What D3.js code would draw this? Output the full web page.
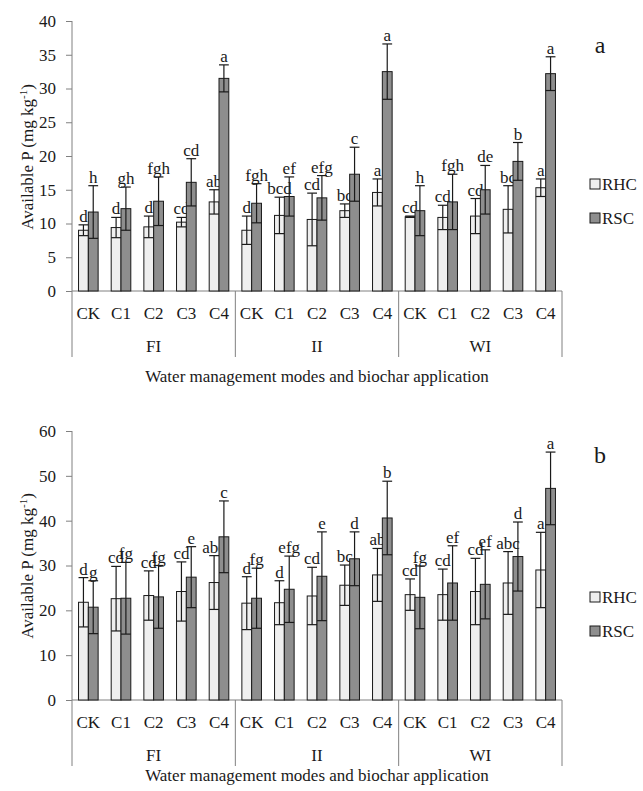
<!DOCTYPE html>
<html>
<head>
<meta charset="utf-8">
<script src="https://cdn.jsdelivr.net/npm/d3@7"></script>
<style>
  body { margin: 0; background: #fff; }
  svg text { font-family: "Liberation Serif", "Times New Roman", "DejaVu Serif", serif; fill: #1a1a1a; }
</style>
</head>
<body>
<div id="chart"></div>
<script>
const width = 643;
const height = 791;
const serif = '"Liberation Serif", "Times New Roman", "DejaVu Serif", serif';

const groups = ["FI", "II", "WI"];
const treatments = ["CK", "C1", "C2", "C3", "C4"];
const seriesNames = ["RHC", "RSC"];

// panel a
const rhcA = [9.0, 9.4, 9.5, 10.2, 13.2, 9.0, 11.2, 10.6, 11.9, 14.6, 11.0, 10.9, 11.1, 12.1, 15.3];
const rhcAErr = [0.8, 1.5, 1.6, 0.7, 1.8, 2.1, 2.7, 3.9, 1.0, 2.0, 0.1, 1.8, 2.6, 3.5, 1.3];
const rscA = [11.7, 12.2, 13.3, 16.1, 31.5, 13.0, 14.0, 13.8, 17.3, 32.5, 11.9, 13.2, 15.0, 19.2, 32.2];
const rscAErr = [3.9, 3.2, 3.6, 3.5, 2.0, 2.9, 2.9, 3.3, 4.0, 4.1, 3.7, 4.1, 3.6, 2.8, 2.5];
const rhcALetters = ["d", "d", "d", "cd", "ab", "d", "bcd", "cd", "bc", "a", "cd", "cd", "cd", "bc", "a"];
const rscALetters = ["h", "gh", "fgh", "cd", "a", "fgh", "ef", "efg", "c", "a", "h", "fgh", "de", "b", "a"];
const ticksA = [0, 5, 10, 15, 20, 25, 30, 35, 40];

// panel b
const rhcB = [21.8, 22.6, 23.3, 24.2, 26.2, 21.6, 21.7, 23.2, 25.6, 27.9, 23.5, 23.5, 24.2, 26.1, 29.0];
const rhcBErr = [5.5, 7.2, 5.5, 6.6, 6.0, 5.9, 4.9, 6.4, 4.5, 5.9, 3.5, 5.7, 7.4, 7.0, 8.4];
const rscB = [20.7, 22.7, 23.0, 27.4, 36.4, 22.7, 24.7, 27.6, 31.5, 40.6, 22.9, 26.1, 25.8, 32.0, 47.2];
const rscBErr = [5.9, 8.0, 7.0, 6.8, 8.0, 6.7, 7.4, 9.9, 6.0, 8.2, 7.0, 8.3, 7.7, 7.7, 8.1];
const rhcBLetters = ["d", "cd", "cd", "cd", "abc", "d", "d", "cd", "bc", "ab", "cd", "cd", "cd", "abc", "a"];
const rscBLetters = ["g", "fg", "fg", "e", "c", "fg", "efg", "e", "d", "b", "fg", "ef", "ef", "d", "a"];
const ticksB = [0, 10, 20, 30, 40, 50, 60];

const fills = { RHC: "#efefef", RSC: "#8e8e8e" };
const axisColor = "#808080";
const left = 72;
const right = 562;

const svg = d3
  .select("#chart")
  .append("svg")
  .attr("width", width)
  .attr("height", height)
  .attr("font-family", serif);

const categories = [];
groups.forEach(g => treatments.forEach(t => categories.push(g + "-" + t)));

const xScale = d3
  .scaleBand()
  .domain(categories)
  .range([left, right])
  .paddingInner(0.4)
  .paddingOuter(0.2);

const xSeries = d3
  .scaleBand()
  .domain(seriesNames)
  .range([0, xScale.bandwidth()]);

const addText = (g, x, y, txt, size, anchor) =>
  g.append("text")
    .attr("x", x)
    .attr("y", y)
    .attr("text-anchor", anchor || "middle")
    .style("font-family", serif)
    .style("font-size", size + "px")
    .text(txt);

const drawPanel = (opts) => {
  const g = svg.append("g");
  const yScale = d3
    .scaleLinear()
    .domain([0, d3.max(opts.ticks)])
    .range([opts.bottom, opts.top]);

  const yAxis = d3
    .axisLeft(yScale)
    .tickValues(opts.ticks)
    .tickSize(6)
    .tickPadding(10);

  const ya = g
    .append("g")
    .attr("transform", `translate(${left},0)`)
    .call(yAxis);
  ya.attr("font-family", serif);
  ya.select(".domain").remove();
  ya.selectAll("line").attr("stroke", axisColor);
  ya.selectAll("text")
    .style("font-size", "17px")
    .style("font-family", serif);

  // y axis line, continued down as first separator
  g.append("line")
    .attr("x1", left).attr("x2", left)
    .attr("y1", opts.top).attr("y2", opts.bottom + 66)
    .attr("stroke", axisColor);

  g.append("line")
    .attr("x1", left).attr("x2", right)
    .attr("y1", opts.bottom).attr("y2", opts.bottom)
    .attr("stroke", axisColor);

  // group separators
  const step = xScale.step();
  [1, 2, 3].forEach(i => {
    const x = left + i * treatments.length * step;
    g.append("line")
      .attr("x1", x).attr("x2", x)
      .attr("y1", opts.bottom).attr("y2", opts.bottom + 66)
      .attr("stroke", axisColor);
  });

  // category labels
  categories.forEach(c => {
    addText(g, xScale(c) + xScale.bandwidth() / 2, opts.bottom + 28, c.split("-")[1], 17);
  });

  groups.forEach((grp, i) => {
    addText(g, left + (i + 0.5) * treatments.length * step, opts.bottom + 61, grp, 17);
  });

  addText(g, (left + right) / 2, opts.bottom + opts.titleOffset,
    "Water management modes and biochar application", 17);

  // y title
  const yt = g
    .append("text")
    .attr("transform", `translate(33,${opts.bottom - 134}) rotate(-90)`)
    .attr("text-anchor", "middle")
    .style("font-family", serif)
    .style("font-size", "17px");
  yt.append("tspan").text("Available P (mg kg");
  yt.append("tspan").attr("dy", -6).style("font-size", "11px").text("-1");
  yt.append("tspan").attr("dy", 6).text(")");

  const series = [
    { name: "RHC", values: opts.rhc, errs: opts.rhcErr, letters: opts.rhcLetters },
    { name: "RSC", values: opts.rsc, errs: opts.rscErr, letters: opts.rscLetters }
  ];

  series.forEach(s => {
    const bw = xSeries.bandwidth();
    categories.forEach((c, i) => {
      const x0 = xScale(c) + xSeries(s.name);
      const cx = x0 + bw / 2;
      const v = s.values[i];
      const e = s.errs[i];
      g.append("rect")
        .attr("x", x0)
        .attr("y", yScale(v))
        .attr("width", bw)
        .attr("height", yScale(0) - yScale(v))
        .attr("fill", fills[s.name])
        .attr("stroke", "#1a1a1a")
        .attr("stroke-width", 1);

      // error bar
      const eb = g.append("g").attr("stroke", "#1a1a1a").attr("stroke-width", 1.2);
      eb.append("line")
        .attr("x1", cx).attr("x2", cx)
        .attr("y1", yScale(v - e)).attr("y2", yScale(v + e));
      [v - e, v + e].forEach(d => {
        eb.append("line")
          .attr("x1", cx - bw / 2).attr("x2", cx + bw / 2)
          .attr("y1", yScale(d)).attr("y2", yScale(d));
      });

      addText(g, cx, yScale(v + e) - 3, s.letters[i], 17);
    });
  });

  // legend
  seriesNames.forEach((n, i) => {
    const ly = opts.legendY + i * 34;
    g.append("rect")
      .attr("x", 590).attr("y", ly - 5)
      .attr("width", 10).attr("height", 10)
      .attr("fill", fills[n])
      .attr("stroke", "#1a1a1a");
    addText(g, 602, ly + 6, n, 17, "start");
  });

  addText(g, 600, opts.top + 32, opts.tag, 24);
};

drawPanel({
  top: 21, bottom: 291, ticks: ticksA,
  rhc: rhcA, rhcErr: rhcAErr, rsc: rscA, rscErr: rscAErr,
  rhcLetters: rhcALetters, rscLetters: rscALetters,
  legendY: 184, tag: "a", titleOffset: 91
});

drawPanel({
  top: 431, bottom: 700, ticks: ticksB,
  rhc: rhcB, rhcErr: rhcBErr, rsc: rscB, rscErr: rscBErr,
  rhcLetters: rhcBLetters, rscLetters: rscBLetters,
  legendY: 597, tag: "b", titleOffset: 81
});
</script>
</body>
</html>
